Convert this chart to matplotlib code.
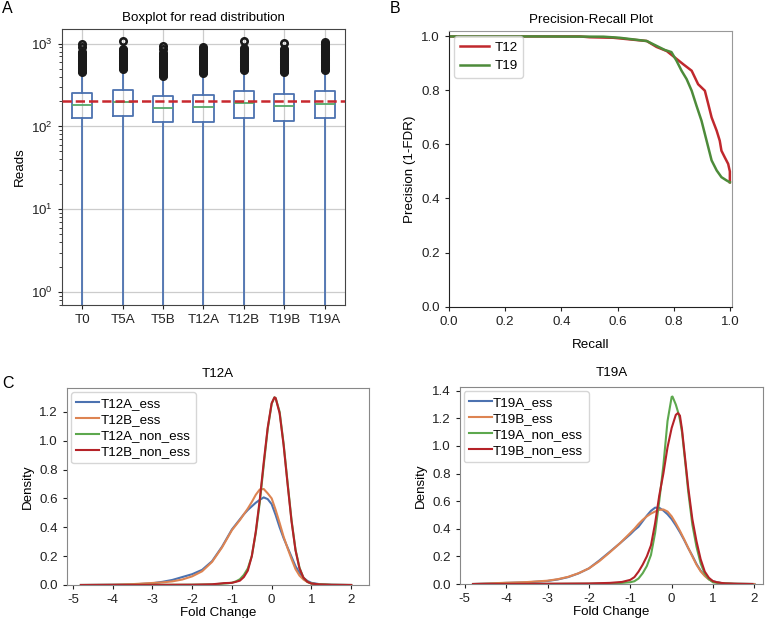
import matplotlib
matplotlib.use("Agg")
import matplotlib.pyplot as plt

plt.rcParams['font.family'] = ['Liberation Sans', 'DejaVu Sans']
plt.rcParams['font.size'] = 9.6
plt.rcParams['axes.titlesize'] = 9.6
plt.rcParams['mathtext.fontset'] = 'custom'
plt.rcParams['mathtext.rm'] = 'Liberation Sans'
plt.rcParams['mathtext.it'] = 'Liberation Sans:italic'
plt.rcParams['mathtext.bf'] = 'Liberation Sans:bold'
plt.rcParams['xtick.major.size'] = 3
plt.rcParams['ytick.major.size'] = 3
plt.rcParams['xtick.minor.size'] = 2
plt.rcParams['ytick.minor.size'] = 2
plt.rcParams['xtick.color'] = '#222222'
plt.rcParams['ytick.color'] = '#222222'

# ---- A: read distribution ----
samples = ['T0', 'T5A', 'T5B', 'T12A', 'T12B', 'T19B', 'T19A']
q1 = [127, 133, 113, 114, 128, 115, 125]
med = [182, 196, 166, 171, 191, 176, 188]
q3 = [250, 274, 232, 241, 269, 247, 269]
low = [0, 0, 0, 0, 0, 0, 0]
high = [440, 480, 400, 430, 470, 445, 470]
fliers = [
    [1000, 900, 800, 770, 740, 712, 685, 660, 635, 610, 587, 565, 543, 522, 502, 483, 465, 450],
    [1066, 870, 838, 806, 775, 745, 717, 690, 664, 638, 614, 591, 568, 547, 526, 506, 489],
    [928, 870, 768, 739, 711, 684, 658, 633, 609, 586, 564, 542, 522, 502, 483, 464, 447, 430, 418, 406],
    [900, 866, 833, 801, 771, 742, 714, 687, 661, 636, 612, 589, 566, 545, 524, 504, 485, 467, 450, 437],
    [1078, 880, 847, 815, 784, 754, 726, 698, 672, 646, 622, 598, 576, 554, 533, 513, 494, 480],
    [1020, 865, 832, 801, 770, 741, 713, 686, 660, 635, 611, 588, 566, 544, 524, 504, 485, 467, 454],
    [1034, 995, 957, 921, 886, 853, 820, 789, 759, 731, 703, 676, 651, 626, 602, 580, 558, 536, 516, 497, 480],
]
threshold = 200

# ---- B: precision-recall ----
t12_recall = [0.0, 0.30, 0.466, 0.50, 0.585, 0.644, 0.704, 0.739, 0.775, 0.804, 0.834, 0.864,
              0.887, 0.911, 0.923, 0.935, 0.953, 0.964, 0.970, 0.982, 0.994, 1.0, 1.0]
t12_prec = [1.0, 1.0, 1.0, 0.997, 0.995, 0.989, 0.983, 0.961, 0.946, 0.922, 0.897, 0.873,
            0.823, 0.799, 0.750, 0.700, 0.651, 0.614, 0.577, 0.552, 0.528, 0.50, 0.46]
t19_recall = [0.0, 0.30, 0.55, 0.608, 0.704, 0.739, 0.768, 0.792, 0.81, 0.828, 0.846, 0.864,
              0.881, 0.899, 0.911, 0.923, 0.935, 0.953, 0.970, 0.988, 1.0]
t19_prec = [1.0, 1.0, 0.999, 0.995, 0.983, 0.965, 0.950, 0.942, 0.91, 0.873, 0.842, 0.799,
            0.744, 0.688, 0.639, 0.590, 0.541, 0.504, 0.479, 0.467, 0.46]

# ---- C: fold change densities ----
fc_ess = [-4.8, -4.0, -3.5, -3.0, -2.75, -2.5, -2.25, -2.0, -1.75, -1.5, -1.25, -1.0, -0.9, -0.8,
          -0.7, -0.6, -0.5, -0.4, -0.3, -0.2, -0.1, 0.0, 0.1, 0.2, 0.3, 0.4, 0.5, 0.6, 0.7, 0.8,
          0.9, 1.0, 1.2, 1.5, 2.0]
t12a_ess = [0.0, 0.002, 0.004, 0.012, 0.022, 0.035, 0.055, 0.075, 0.105, 0.165, 0.265, 0.385, 0.42,
            0.455, 0.49, 0.52, 0.545, 0.57, 0.59, 0.607, 0.595, 0.56, 0.485, 0.40, 0.325, 0.26,
            0.195, 0.13, 0.085, 0.05, 0.028, 0.015, 0.006, 0.002, 0.0]
t12b_ess = [0.0, 0.002, 0.006, 0.014, 0.018, 0.025, 0.038, 0.06, 0.095, 0.16, 0.26, 0.38, 0.415,
            0.45, 0.49, 0.53, 0.575, 0.625, 0.662, 0.665, 0.635, 0.60, 0.52, 0.43, 0.335, 0.255,
            0.18, 0.11, 0.065, 0.038, 0.02, 0.01, 0.004, 0.001, 0.0]
t19a_ess = [0.0, 0.008, 0.012, 0.022, 0.033, 0.05, 0.077, 0.113, 0.17, 0.232, 0.295, 0.36, 0.39,
            0.415, 0.455, 0.495, 0.53, 0.553, 0.552, 0.532, 0.505, 0.47, 0.425, 0.375, 0.32, 0.26,
            0.205, 0.145, 0.097, 0.062, 0.035, 0.02, 0.007, 0.002, 0.0]
t19b_ess = [0.0, 0.009, 0.014, 0.024, 0.035, 0.052, 0.078, 0.113, 0.165, 0.228, 0.295, 0.37, 0.40,
            0.435, 0.465, 0.49, 0.51, 0.525, 0.537, 0.54, 0.525, 0.49, 0.44, 0.385, 0.325, 0.262,
            0.2, 0.14, 0.092, 0.058, 0.033, 0.018, 0.006, 0.002, 0.0]

fc_non = [-4.8, -3.0, -2.0, -1.5, -1.3, -1.2, -1.1, -1.0, -0.9, -0.8, -0.7, -0.6, -0.5, -0.4, -0.3,
          -0.2, -0.1, 0.0, 0.07, 0.1, 0.2, 0.3, 0.4, 0.5, 0.6, 0.7, 0.8, 0.9, 1.0, 1.2, 1.5, 2.0]
t12a_non = [0.0, 0.001, 0.002, 0.004, 0.008, 0.01, 0.012, 0.016, 0.025, 0.04, 0.07, 0.115, 0.20,
            0.36, 0.57, 0.83, 1.08, 1.255, 1.30, 1.295, 1.20, 0.98, 0.71, 0.45, 0.245, 0.12, 0.05,
            0.022, 0.01, 0.004, 0.001, 0.0]
t12b_non = [0.0, 0.001, 0.002, 0.005, 0.01, 0.013, 0.014, 0.015, 0.022, 0.03, 0.055, 0.10, 0.20,
            0.37, 0.59, 0.85, 1.09, 1.26, 1.30, 1.295, 1.19, 0.97, 0.70, 0.44, 0.24, 0.115, 0.05,
            0.022, 0.01, 0.004, 0.001, 0.0]

fc_t19a_non = [-4.8, -3.0, -2.0, -1.5, -1.2, -1.0, -0.9, -0.8, -0.7, -0.6, -0.5, -0.4, -0.3, -0.2,
               -0.1, 0.0, 0.02, 0.1, 0.17, 0.2, 0.25, 0.3, 0.35, 0.4, 0.5, 0.6, 0.7, 0.8, 0.9, 1.0,
               1.2, 1.5, 1.95]
t19a_non = [0.0, 0.001, 0.002, 0.004, 0.008, 0.013, 0.02, 0.04, 0.078, 0.13, 0.21, 0.37, 0.60, 0.86,
            1.18, 1.355, 1.358, 1.30, 1.23, 1.19, 1.10, 0.96, 0.82, 0.67, 0.43, 0.27, 0.15, 0.075,
            0.035, 0.012, 0.004, 0.001, 0.0]
fc_t19b_non = [-4.8, -3.0, -2.0, -1.5, -1.2, -1.0, -0.9, -0.8, -0.7, -0.6, -0.5, -0.4, -0.3, -0.2,
               -0.1, 0.0, 0.1, 0.15, 0.2, 0.25, 0.3, 0.35, 0.4, 0.5, 0.6, 0.7, 0.8, 0.9, 1.0, 1.1,
               1.3, 1.6, 1.95]
t19b_non = [0.0, 0.002, 0.004, 0.008, 0.015, 0.03, 0.05, 0.09, 0.14, 0.20, 0.28, 0.44, 0.64, 0.80,
            0.99, 1.13, 1.225, 1.238, 1.22, 1.12, 0.98, 0.84, 0.70, 0.47, 0.31, 0.18, 0.09, 0.045,
            0.02, 0.012, 0.004, 0.001, 0.0]

blue = '#4C72B0'
orange = '#DD8452'
green = '#5DA84E'
red = '#B52228'

fig = plt.figure(figsize=(7.65, 6.18), dpi=100)

# panel A
ax = fig.add_axes([0.081, 0.5065, 0.370, 0.4466])
stats = []
for i in range(len(samples)):
    stats.append({'label': samples[i], 'q1': q1[i], 'med': med[i], 'q3': q3[i],
                  'whislo': low[i], 'whishi': high[i], 'fliers': fliers[i]})
ax.set_yscale('log', nonpositive='clip')
ax.bxp(stats, positions=range(1, len(samples) + 1), widths=0.5, showcaps=False,
       boxprops=dict(color=blue, lw=1.3),
       whiskerprops=dict(color=blue, lw=1.3),
       medianprops=dict(color='#55A868', lw=1.3),
       flierprops=dict(marker='o', markerfacecolor='none', markeredgecolor='#1a1a1a',
                       markersize=4.6, markeredgewidth=1.9))
ax.axhline(threshold, color='#C8282E', ls='--', lw=1.8, zorder=5)
ax.set_xlim(0.5, 7.5)
ax.set_ylim(0.7, 1500)
ax.grid(True, which='major', color='#cccccc', lw=0.9)
ax.set_axisbelow(True)
ax.set_ylabel('Reads')
ax.set_title('Boxplot for read distribution')
for s in ax.spines.values():
    s.set_color('#444444')

# panel B
ax = fig.add_axes([0.587, 0.504, 0.370, 0.4458])
ax.plot(t12_recall, t12_prec, color='#C0282D', lw=1.8, label='T12')
ax.plot(t19_recall, t19_prec, color='#4D8B3A', lw=1.8, label='T19')
ax.set_xlim(0, 1.008)
ax.set_ylim(0, 1.02)
ax.set_xticks([0, 0.2, 0.4, 0.6, 0.8, 1.0])
ax.set_yticks([0, 0.2, 0.4, 0.6, 0.8, 1.0])
ax.set_xlabel('Recall', labelpad=8)
ax.set_ylabel('Precision (1-FDR)')
ax.set_title('Precision-Recall Plot')
ax.spines['top'].set_color('#999999')
ax.spines['right'].set_color('#999999')
ax.spines['left'].set_color('#222222')
ax.spines['bottom'].set_color('#222222')
ax.legend(loc='upper left', handlelength=2.2, handletextpad=0.4, labelspacing=0.45,
          borderaxespad=0.4, edgecolor='#cccccc')

# panel C
def density_panel(rect, title, curves, xlim, ylim, yticks):
    ax = fig.add_axes(rect)
    for xs, ys, col, lab in curves:
        ax.plot(xs, ys, color=col, lw=1.5, label=lab)
    ax.set_xlim(*xlim)
    ax.set_ylim(*ylim)
    ax.set_xticks([-5, -4, -3, -2, -1, 0, 1, 2])
    ax.set_xticklabels(['-5', '-4', '-3', '-2', '-1', '0', '1', '2'])
    ax.set_yticks(yticks)
    ax.set_xlabel('Fold Change', labelpad=1)
    ax.set_ylabel('Density')
    ax.set_title(title, pad=8)
    for s in ax.spines.values():
        s.set_color('#888888')
    ax.legend(loc='upper left', handlelength=1.7, handletextpad=0.1, labelspacing=0.28,
              borderaxespad=0.3, edgecolor='#cccccc')
    return ax

density_panel([0.0876, 0.0534, 0.3948, 0.3188], 'T12A',
              [(fc_ess, t12a_ess, blue, 'T12A_ess'), (fc_ess, t12b_ess, orange, 'T12B_ess'),
               (fc_non, t12a_non, green, 'T12A_non_ess'), (fc_non, t12b_non, red, 'T12B_non_ess')],
              (-5.15, 2.45), (0, 1.365), [0.0, 0.2, 0.4, 0.6, 0.8, 1.0, 1.2])
density_panel([0.601, 0.055, 0.396, 0.3188], 'T19A',
              [(fc_ess, t19a_ess, blue, 'T19A_ess'), (fc_ess, t19b_ess, orange, 'T19B_ess'),
               (fc_t19a_non, t19a_non, green, 'T19A_non_ess'),
               (fc_t19b_non, t19b_non, red, 'T19B_non_ess')],
              (-5.12, 2.2), (0, 1.427), [0.0, 0.2, 0.4, 0.6, 0.8, 1.0, 1.2, 1.4])

fig.text(0.003, 0.998, 'A', fontsize=11.5, va='top', ha='left')
fig.text(0.509, 0.998, 'B', fontsize=11.5, va='top', ha='left')
fig.text(0.003, 0.392, 'C', fontsize=11.5, va='top', ha='left')

fig.savefig('out.png', dpi=100)
